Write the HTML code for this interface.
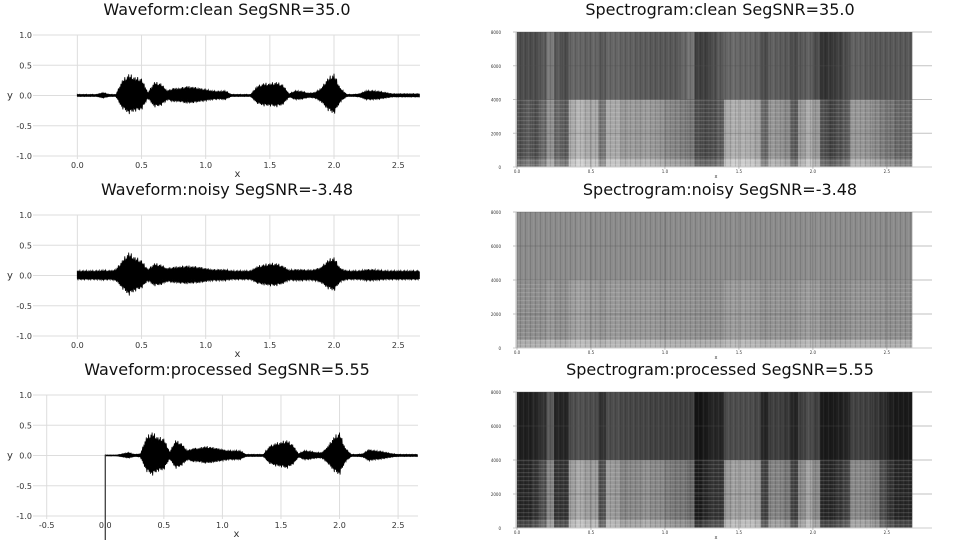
<!DOCTYPE html>
<html><head><meta charset="utf-8"><style>
body{margin:0;background:#fff;}
svg{display:block;font-family:"DejaVu Sans","Liberation Sans",sans-serif;}
</style></head><body>
<svg id="c" width="960" height="540">
<defs>
<pattern id="hlines" width="6" height="4" patternUnits="userSpaceOnUse">
<rect x="0" y="0" width="6" height="1.2" fill="#fff" fill-opacity="0.13"/>
</pattern>
<pattern id="vlines" width="5" height="6" patternUnits="userSpaceOnUse">
<rect x="0" y="0" width="1" height="6" fill="#000" fill-opacity="0.12"/>
<rect x="3" y="0" width="0.6" height="6" fill="#fff" fill-opacity="0.08"/>
</pattern>
</defs>
</svg>
<script>
// time grid (s) for envelope samples
const times = [];
for (let i = 0; i < 54; i++) times.push(i * 0.05);
const cleanEnv = [.02,.02,.02,.02,.05,.02,.02,.25,.35,.3,.28,.05,.22,.2,.08,.12,.12,.15,.14,.12,.1,.08,.07,.08,.02,.02,.02,.02,.15,.2,.2,.22,.18,.03,.08,.07,.04,.05,.12,.28,.36,.12,.02,.02,.03,.08,.08,.07,.05,.03,.03,.03,.03,.03];
const noisyEnv = [.08,.08,.08,.08,.09,.08,.1,.25,.38,.3,.25,.1,.2,.18,.12,.14,.15,.16,.15,.14,.12,.1,.1,.1,.08,.08,.08,.08,.15,.18,.2,.2,.16,.09,.1,.1,.09,.1,.14,.25,.3,.12,.08,.08,.08,.1,.1,.09,.08,.08,.08,.08,.08,.08];
const procEnv = [.01,.01,.01,.03,.05,.02,.03,.3,.38,.3,.28,.06,.25,.2,.08,.12,.12,.15,.14,.12,.1,.08,.08,.08,.02,.02,.02,.02,.15,.2,.22,.25,.18,.03,.08,.07,.05,.05,.15,.3,.38,.12,.02,.02,.03,.1,.08,.07,.05,.03,.02,.02,.02,.02];
const yTicks = [1.0, 0.5, 0.0, -0.5, -1.0];
const xTicksTop = [0.0, 0.5, 1.0, 1.5, 2.0, 2.5];
const xTicksProc = [-0.5, 0.0, 0.5, 1.0, 1.5, 2.0, 2.5];
// spectrogram band brightness (0..1) per time bin: low (0-4k), high (4k-8k)
const cleanLow = [.3,.35,.3,.4,.55,.4,.35,.65,.7,.65,.65,.45,.65,.65,.58,.6,.58,.6,.58,.56,.52,.5,.48,.45,.3,.28,.3,.35,.65,.68,.68,.66,.62,.4,.58,.56,.52,.35,.58,.66,.58,.3,.25,.3,.35,.58,.58,.56,.52,.48,.45,.4,.4,.4];
const cleanHigh = [.3,.3,.3,.35,.48,.35,.3,.4,.4,.38,.4,.35,.4,.4,.38,.38,.36,.36,.35,.35,.35,.35,.4,.45,.25,.25,.3,.35,.4,.42,.4,.4,.38,.3,.38,.36,.35,.3,.35,.38,.3,.2,.22,.25,.3,.38,.38,.36,.35,.35,.35,.35,.35,.35];
const noisyLow = [.55,.55,.55,.55,.58,.55,.55,.6,.62,.6,.59,.56,.59,.59,.58,.58,.58,.58,.58,.57,.57,.56,.56,.56,.55,.55,.55,.55,.59,.6,.6,.59,.58,.55,.57,.57,.56,.56,.58,.6,.59,.55,.55,.55,.55,.57,.57,.57,.56,.56,.55,.55,.55,.55];
const noisyHigh = [.55,.55,.55,.55,.55,.55,.55,.55,.56,.56,.55,.55,.55,.55,.55,.55,.55,.55,.55,.55,.55,.55,.55,.55,.55,.55,.55,.55,.55,.56,.56,.55,.55,.55,.55,.55,.55,.55,.55,.56,.56,.55,.55,.55,.55,.55,.55,.55,.55,.55,.55,.55,.55,.55];
const procLow = [.15,.15,.2,.3,.5,.2,.2,.6,.65,.6,.6,.3,.6,.58,.5,.52,.52,.55,.52,.52,.48,.45,.45,.4,.1,.15,.2,.2,.58,.62,.62,.62,.58,.25,.5,.5,.45,.25,.52,.62,.52,.15,.15,.2,.25,.52,.52,.5,.45,.3,.2,.15,.15,.15];
const procHigh = [.12,.12,.15,.2,.35,.15,.15,.3,.32,.3,.3,.2,.3,.3,.28,.28,.27,.27,.26,.26,.25,.25,.25,.25,.08,.1,.15,.15,.3,.3,.3,.3,.28,.15,.25,.25,.22,.15,.25,.3,.25,.1,.1,.12,.15,.26,.26,.25,.22,.18,.12,.1,.1,.1];

const NS = 'http://www.w3.org/2000/svg';
const svg = document.getElementById('c');
const JAG = [1, 0.55, 0.9, 0.7, 1.05, 0.5, 0.85, 0.65, 0.95, 0.6];
function mk(tag, attrs, parent) {
  const e = document.createElementNS(NS, tag);
  for (const k in attrs) e.setAttribute(k, attrs[k]);
  (parent || svg).appendChild(e);
  return e;
}
function txt(x, y, s, size, anchor, parent) {
  const t = mk('text', {x: x, y: y, 'font-size': size, 'text-anchor': anchor || 'middle', fill: '#333'}, parent);
  t.textContent = s;
  return t;
}

function wavePanel(name, title, env, cfg) {
  const g = mk('g', {});
  
  
  const xs = v => cfg.x0 + (v - cfg.xmin) / (cfg.xmax - cfg.xmin) * (cfg.x1 - cfg.x0);
  const ys = v => cfg.yz - v * cfg.yh;
  const tt = txt(227, cfg.ty, title, 16, 'middle', g);
  
  
  tt.setAttribute('fill', '#111');
  yTicks.forEach(v => {
    const l = mk('line', {x1: cfg.x0 - 2, x2: cfg.x1, y1: ys(v), y2: ys(v), stroke: '#ddd', 'stroke-width': 1}, g);
    
    
    const t = txt(cfg.x0 - 3, ys(v) + 3, v.toFixed(1), 8, 'end', g);
    
    
  });
  cfg.xt.forEach(v => {
    const l = mk('line', {x1: xs(v), x2: xs(v), y1: ys(1), y2: ys(-1) + 3, stroke: '#ddd', 'stroke-width': 1}, g);
    
    
    const t = txt(xs(v), ys(-1) + 12, v.toFixed(1), 8, 'middle', g);
    
    
  });
  const xl = txt((cfg.x0 + cfg.x1) / 2 + 10, ys(-1) + 21, 'x', 10, 'middle', g);
  
  
  const yl = txt(10, ys(0) + 3, 'y', 10, 'middle', g);
  
  
  let top = [], bot = [];
  let n = 0;
  for (let i = 0; i < times.length; i++) {
    const t = times[i];
    if (t > cfg.xmax) break;
    const a = env[i];
    const b = i + 1 < env.length ? env[i + 1] : a;
    for (let k = 0; k < 10; k++) {
      const f = k / 10;
      const amp = a + (b - a) * f;
      const j = JAG[n % JAG.length];
      const j2 = JAG[(n + 3) % JAG.length];
      n++;
      const tx = t + 0.05 * f;
      if (tx > cfg.xmax) break;
      top.push(xs(tx).toFixed(1) + ',' + ys(amp * j).toFixed(1));
      bot.push(xs(tx).toFixed(1) + ',' + ys(-amp * 0.85 * j2).toFixed(1));
    }
  }
  const p = mk('polygon', {points: top.concat(bot.reverse()).join(' '), fill: '#000', stroke: '#000', 'stroke-width': 0.8}, g);
  
  
  return {g, xs, ys};
}

const w1 = wavePanel('waveform-clean-panel', 'Waveform:clean SegSNR=35.0', cleanEnv,
  {x0: 35, x1: 420, xmin: -0.33, xmax: 2.67, yz: 95.5, yh: 60.5, ty: 15, xt: xTicksTop});
const w2 = wavePanel('waveform-noisy-panel', 'Waveform:noisy SegSNR=-3.48', noisyEnv,
  {x0: 35, x1: 420, xmin: -0.33, xmax: 2.67, yz: 275.5, yh: 60.5, ty: 195, xt: xTicksTop});
const w3 = wavePanel('waveform-processed-panel', 'Waveform:processed SegSNR=5.55', procEnv,
  {x0: 35, x1: 418, xmin: -0.6, xmax: 2.67, yz: 455.5, yh: 60.5, ty: 375, xt: xTicksProc});
const vl = mk('line', {x1: w3.xs(0), x2: w3.xs(0), y1: 455, y2: 540, stroke: '#333', 'stroke-width': 1.2}, w3.g);



const fTicks = [0, 2000, 4000, 6000, 8000];
const sxTicks = [0.0, 0.5, 1.0, 1.5, 2.0, 2.5];
function gray(v) { const c = Math.round(v * 255); return 'rgb(' + c + ',' + c + ',' + c + ')'; }
function specPanel(name, title, low, high, cfg) {
  const g = mk('g', {});
  
  
  const x0 = 517, x1 = 912, tmax = 2.67;
  const xs = v => x0 + v / tmax * (x1 - x0);
  const ys = f => cfg.yb - f / 8000 * (cfg.yb - cfg.yt);
  const tt = txt(720, cfg.ty, title, 16, 'middle', g);
  
  
  tt.setAttribute('fill', '#111');
  const bg = mk('rect', {x: x0, y: cfg.yt, width: x1 - x0, height: cfg.yb - cfg.yt, fill: gray(high[0])}, g);
  
  
  for (let i = 0; i < times.length; i++) {
    const t = times[i];
    if (t >= tmax) break;
    const w = Math.min(xs(t + 0.05), x1) - xs(t) + 0.3;
    const r1 = mk('rect', {x: xs(t), y: ys(8000), width: w, height: ys(4000) - ys(8000), fill: gray(high[i])}, g);
    
    
    const r2 = mk('rect', {x: xs(t), y: ys(4000), width: w, height: ys(500) - ys(4000), fill: gray(low[i])}, g);
    
    
    const r3 = mk('rect', {x: xs(t), y: ys(500), width: w, height: ys(0) - ys(500), fill: gray(Math.min(1, low[i] + 0.12))}, g);
    
    
  }
  const tex1 = mk('rect', {x: x0, y: cfg.yt, width: x1 - x0, height: cfg.yb - cfg.yt, fill: 'url(#vlines)'}, g);
  
  
  const tex2 = mk('rect', {x: x0, y: ys(4000), width: x1 - x0, height: ys(0) - ys(4000), fill: 'url(#hlines)'}, g);
  
  
  fTicks.forEach(f => {
    const l = mk('line', {x1: x0 - 4, x2: 932, y1: ys(f), y2: ys(f), stroke: f === 0 ? '#ccc' : 'rgba(80,80,80,0.35)', 'stroke-width': 1}, g);
    
    
    const t = txt(x0 - 16, ys(f) + 2, String(f), 4, 'end', g);
    
    
  });
  sxTicks.forEach(v => {
    const l = mk('line', {x1: xs(v), x2: xs(v), y1: cfg.yt, y2: cfg.yb + 2, stroke: 'rgba(80,80,80,0.3)', 'stroke-width': 1}, g);
    
    
    const t = txt(xs(v), cfg.yb + 6, v.toFixed(1), 4, 'middle', g);
    
    
  });
  const ax = mk('line', {x1: x0 - 1, x2: x0 - 1, y1: cfg.yt, y2: cfg.yb, stroke: '#bbb', 'stroke-width': 1}, g);
  
  
  const xl = txt(716, cfg.yb + 11, 'x', 5, 'middle', g);
  
  
}
specPanel('spectrogram-clean-panel', 'Spectrogram:clean SegSNR=35.0', cleanLow, cleanHigh, {yt: 32, yb: 167, ty: 15});
specPanel('spectrogram-noisy-panel', 'Spectrogram:noisy SegSNR=-3.48', noisyLow, noisyHigh, {yt: 212, yb: 348, ty: 195});
specPanel('spectrogram-processed-panel', 'Spectrogram:processed SegSNR=5.55', procLow, procHigh, {yt: 392, yb: 528, ty: 375});
</script>
</body></html>
